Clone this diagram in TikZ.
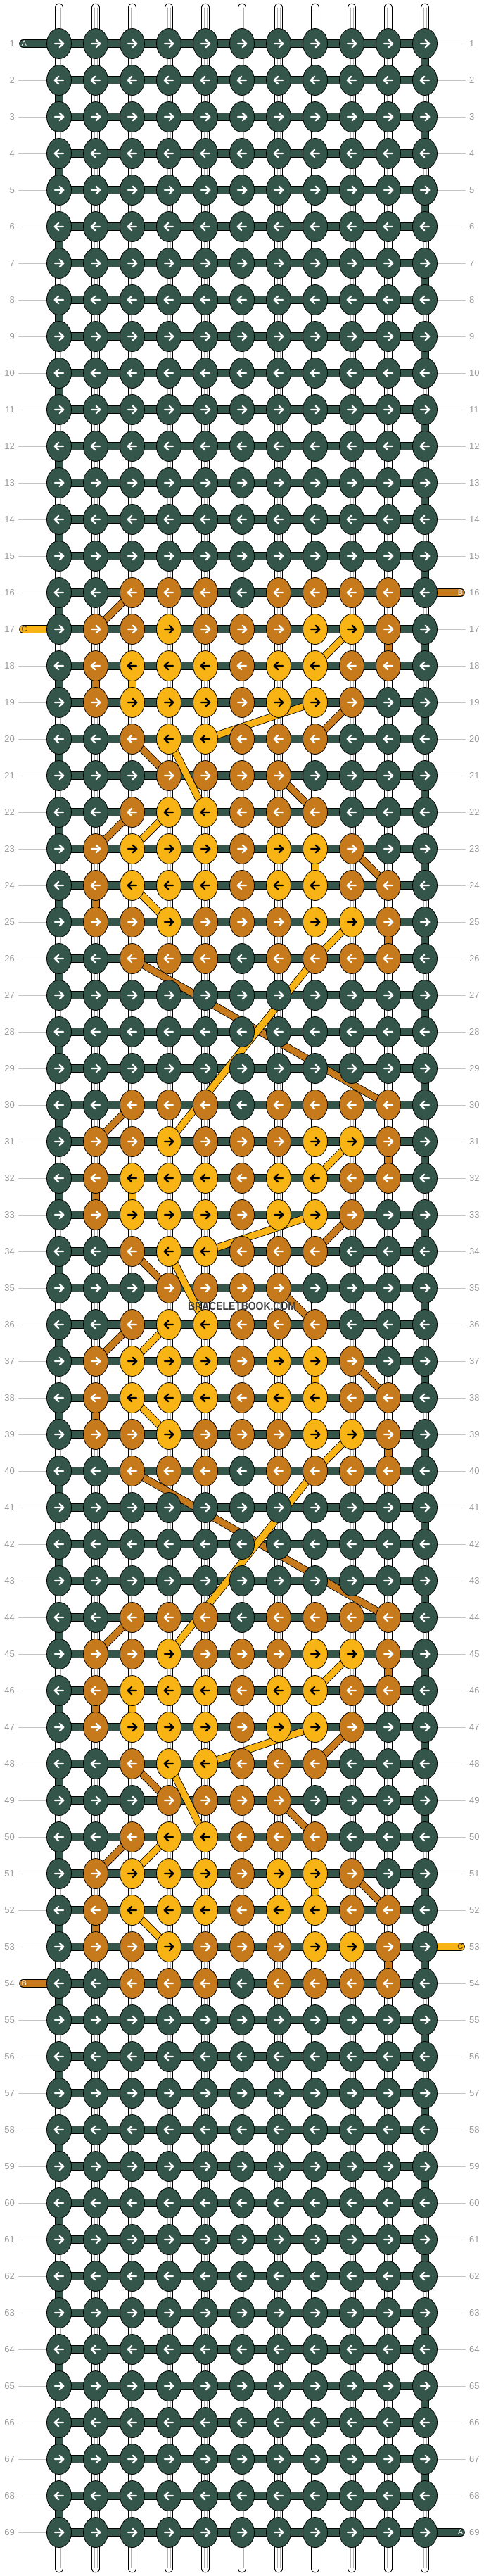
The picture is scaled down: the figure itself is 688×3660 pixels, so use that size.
\documentclass[tikz,border=0pt]{standalone}
\usepackage{fontspec}
\setmainfont{Liberation Sans}
\usetikzlibrary{shapes.geometric}
\definecolor{colG}{HTML}{33554A}
\definecolor{colO}{HTML}{C67A1B}
\definecolor{colY}{HTML}{F8B414}
\colorlet{arrG}{white}
\colorlet{arrO}{white}
\colorlet{arrY}{black}
\definecolor{labgray}{HTML}{999999}
\definecolor{linegray}{HTML}{C4C4C4}
\definecolor{wmgray}{HTML}{3C3C3C}
\pgfdeclarelayer{bg}
\pgfdeclarelayer{mid}
\pgfsetlayers{bg,mid,main}
\def\bbpatg{G,G,G,G,G,G,G,G,G,G,G}
\def\bbpata{G,G,O,O,O,G,O,O,O,O,G}
\def\bbpatb{G,O,O,Y,O,O,O,Y,Y,O,G}
\def\bbpatc{G,O,Y,Y,Y,O,Y,Y,O,O,G}
\def\bbpatd{G,O,Y,Y,Y,O,Y,Y,O,G,G}
\def\bbpate{G,G,O,Y,Y,O,O,O,G,G,G}
\def\bbpatf{G,G,G,O,O,O,O,G,G,G,G}
\begin{document}
\begin{tikzpicture}[x=1pt,y=-1pt,
  knot/.style={ellipse,draw=black,line width=0.8pt,minimum width=35pt,minimum height=43pt,inner sep=0pt},
  arrowline/.style={line width=2.4pt,line cap=round,line join=round},
  tubeout/.style={draw=black,line width=12pt,line cap=round},
  tubein/.style={draw=white,line width=10.4pt,line cap=round},
  tubeline/.style={draw=black!30,line width=0.6pt},
  band/.style={draw=black,line width=0.8pt,double distance=10pt},
  diag/.style={draw=black,line width=0.8pt,double distance=9pt},
  startstr/.style={draw=black,line width=0.8pt,double distance=10pt,line cap=round},
  lab/.style={inner sep=0pt,text=labgray,font=\fontsize{13}{13}\selectfont},
  labline/.style={draw=linegray,line width=1pt},
  letter/.style={inner sep=0pt,font=\fontsize{11}{11}\selectfont}
]
\useasboundingbox (0,0) rectangle (688,3660);
% knots
\foreach \r/\p in {1/g,2/g,3/g,4/g,5/g,6/g,7/g,8/g,9/g,10/g,11/g,12/g,13/g,14/g,15/g,
  16/a,17/b,18/c,19/d,20/e,21/f,22/e,23/d,24/c,25/b,26/a,27/g,28/g,29/g,
  30/a,31/b,32/c,33/d,34/e,35/f,36/e,37/d,38/c,39/b,40/a,41/g,42/g,43/g,
  44/a,45/b,46/c,47/d,48/e,49/f,50/e,51/d,52/c,53/b,54/a,
  55/g,56/g,57/g,58/g,59/g,60/g,61/g,62/g,63/g,64/g,65/g,66/g,67/g,68/g,69/g} {
  \edef\pat{\csname bbpat\p\endcsname}
  \pgfmathsetmacro\y{62+52*(\r-1)}
  \ifodd\r \def\dir{1}\else\def\dir{-1}\fi
  \foreach \k [count=\c] in \pat {
    \pgfmathsetmacro\x{84+52*(\c-1)}
    \node[knot,fill=col\k] (k-\r-\c) at (\x,\y) {};
    \draw[arrowline,draw=arr\k,shift={(\x,\y)},xscale=\dir] (-6,0) -- (6,0) (0.8,-5.2) -- (6.2,0) -- (0.8,5.2);
  }
}
\begin{pgfonlayer}{bg}
\foreach \c in {1,...,11} {
  \pgfmathsetmacro\x{84+52*(\c-1)}
  \coordinate (top-\c) at (\x,10.7);
  \coordinate (bot-\c) at (\x,3649.3);
  \draw[tubeout] (top-\c) -- (bot-\c);
  \draw[tubein] (top-\c) -- (bot-\c);
  \draw[tubeline] ([xshift=-2.2pt]top-\c) -- ([xshift=-2.2pt]bot-\c);
  \draw[tubeline] ([xshift=2.2pt]top-\c) -- ([xshift=2.2pt]bot-\c);
}
\foreach \r in {1,...,69} {
  \draw[band,double=colG] (k-\r-1.center) -- (k-\r-11.center);
}
\foreach \r in {1,...,68} {
  \pgfmathtruncatemacro\rn{\r+1}
  \ifodd\r \def\cc{11}\else\def\cc{1}\fi
  \draw[band,double=colG] (k-\r-\cc.center) -- (k-\rn-\cc.center);
}
\foreach \r/\c/\q in {17/10/O,18/2/O,24/2/O,25/10/O,31/10/O,32/2/O,38/2/O,39/10/O,45/10/O,46/2/O,52/2/O,53/10/O,
  18/3/Y,23/8/Y,32/3/Y,37/8/Y,46/3/Y,51/8/Y} {
  \pgfmathtruncatemacro\rn{\r+1}
  \draw[band,double=col\q] (k-\r-\c.center) -- (k-\rn-\c.center);
}
\coordinate (sA1) at (33,62);
\coordinate (sB1) at (655,842);
\coordinate (sC1) at (33,894);
\coordinate (sC2) at (655,2766);
\coordinate (sB2) at (33,2818);
\coordinate (sA2) at (655,3598);
\draw[startstr,double=colG] (sA1) -- (k-1-1.center);
\draw[startstr,double=colO] (k-16-11.center) -- (sB1);
\draw[startstr,double=colY] (sC1) -- (k-17-1.center);
\draw[startstr,double=colY] (k-53-11.center) -- (sC2);
\draw[startstr,double=colO] (sB2) -- (k-54-1.center);
\draw[startstr,double=colG] (k-69-11.center) -- (sA2);
\end{pgfonlayer}
\begin{pgfonlayer}{mid}
\foreach \a/\b in {16-3/17-2,19-9/20-8,20-3/21-4,21-7/22-8,22-3/23-2,23-9/24-10,26-3/30-10,
  30-3/31-2,33-9/34-8,34-3/35-4,35-7/36-8,36-3/37-2,37-9/38-10,40-3/44-10,
  44-3/45-2,47-9/48-8,48-3/49-4,49-7/50-8,50-3/51-2,51-9/52-10} {
  \draw[diag,double=colO] (k-\a.center) -- (k-\b.center);
}
\foreach \a/\b in {17-9/18-8,19-8/20-5,20-4/22-5,22-4/23-3,24-3/25-4,25-9/26-8,26-8/31-4,
  31-9/32-8,33-8/34-5,34-4/36-5,36-4/37-3,38-3/39-4,39-9/40-8,40-8/45-4,
  45-9/46-8,47-8/48-5,48-4/50-5,50-4/51-3,52-3/53-4} {
  \draw[diag,double=colY] (k-\a.center) -- (k-\b.center);
}
\end{pgfonlayer}
% string letters
\node[letter,text=white,anchor=west] (tA1) at (30.5,62) {A};
\node[letter,text=white,anchor=east] (tB1) at (658.5,842) {B};
\node[letter,text=black!80,anchor=west] (tC1) at (30.5,894) {C};
\node[letter,text=black!80,anchor=east] (tC2) at (658.5,2766) {C};
\node[letter,text=white,anchor=west] (tB2) at (30.5,2818) {B};
\node[letter,text=white,anchor=east] (tA2) at (658.5,3598) {A};
% row labels
\foreach \r in {1,...,69} {
  \pgfmathsetmacro\y{62+52*(\r-1)}
  \node[lab,anchor=east] (nl-\r) at (21,\y) {\r};
  \node[lab,anchor=west] (nr-\r) at (667,\y) {\r};
  \coordinate (ll-\r) at (26,\y);
  \coordinate (lr-\r) at (662,\y);
  \ifnum\r=1 \else\ifnum\r=17 \else\ifnum\r=54 \else
    \draw[labline] (ll-\r) -- (k-\r-1);
  \fi\fi\fi
  \ifnum\r=16 \else\ifnum\r=53 \else\ifnum\r=69 \else
    \draw[labline] (k-\r-11) -- (lr-\r);
  \fi\fi\fi
}
\node[inner sep=0pt,text=wmgray,font=\bfseries\fontsize{16}{16}\selectfont] (wm) at (344,1856) {\scalebox{0.87}[1]{BRACELETBOOK.COM}};
\end{tikzpicture}
\end{document}
